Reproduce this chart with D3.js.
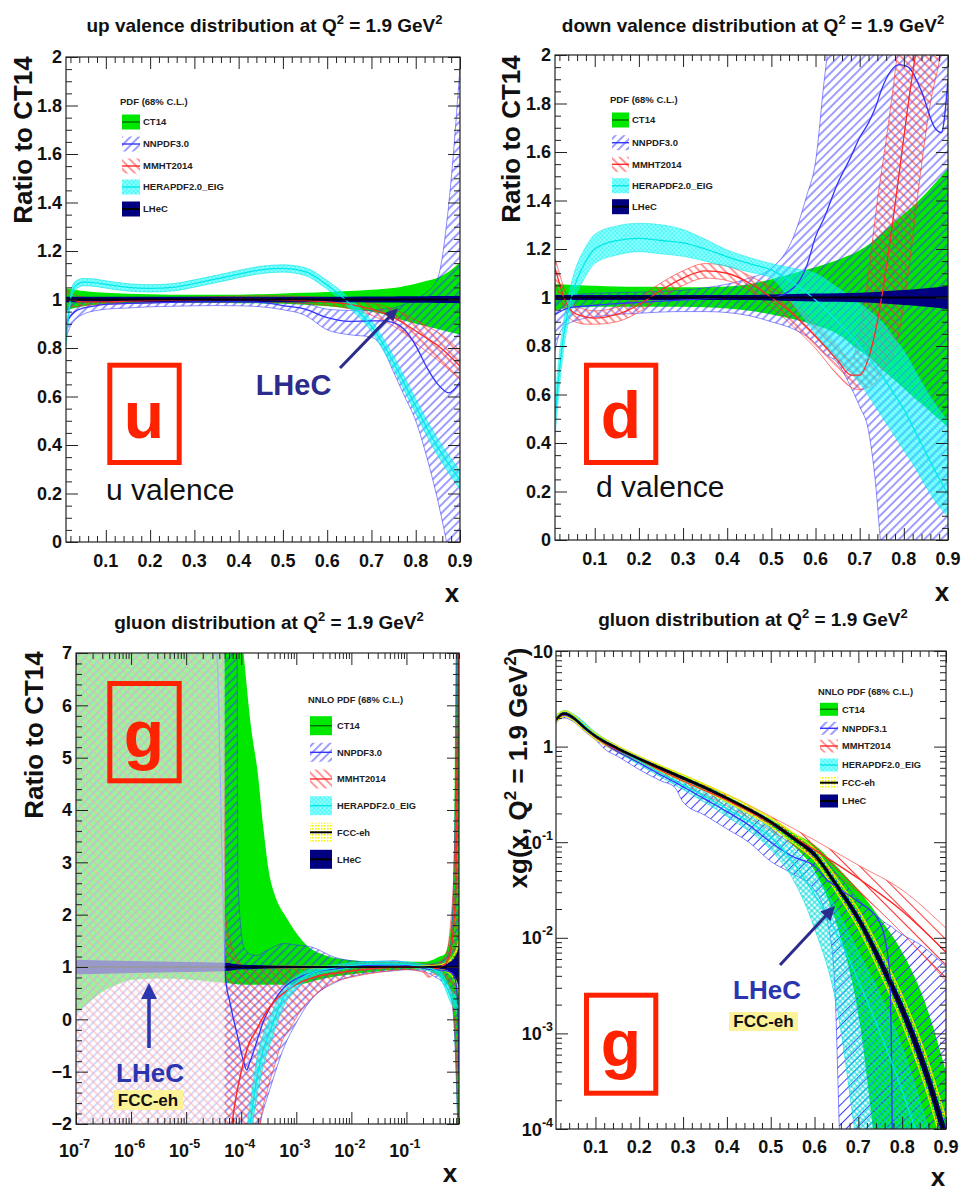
<!DOCTYPE html>
<html>
<head>
<meta charset="utf-8">
<script src="https://cdn.jsdelivr.net/npm/d3@7"></script>
<style>
  html,body{margin:0;padding:0;background:#fff;}
  svg text{font-family:"Liberation Sans",Arial,Helvetica,sans-serif;}
</style>
</head>
<body>
<svg id="fig" width="971" height="1193" xmlns="http://www.w3.org/2000/svg"></svg>
<script>
// ================= up valence: ratio to CT14 =================
const uX = [0.01,0.02,0.03,0.05,0.08,0.1,0.15,0.2,0.25,0.3,0.35,0.4,0.45,0.5,0.55,0.6,0.65,0.7,0.725,0.75,0.775,0.8,0.825,0.85,0.875,0.9];
const uCT14Lo = [.955,.96,.965,.972,.978,.98,.983,.985,.986,.986,.986,.985,.984,.982,.978,.972,.962,.95,.94,.925,.912,.9,.89,.878,.866,.855];
const uCT14Hi = [1.045,1.043,1.04,1.035,1.03,1.028,1.024,1.022,1.02,1.02,1.02,1.02,1.022,1.025,1.028,1.031,1.035,1.04,1.043,1.047,1.056,1.065,1.077,1.09,1.115,1.155];
const uNNPDFMid = [.9,.93,.95,.965,.975,.98,.984,.986,.988,.99,.99,.99,.988,.975,.96,.925,.91,.912,.912,.905,.875,.81,.72,.65,.615,.66];
const uNNPDFLo = [.84,.89,.915,.94,.955,.96,.965,.97,.972,.974,.975,.974,.97,.958,.935,.875,.855,.845,.8,.7,.6,.5,.35,.17,-.05,-.3];
const uNNPDFHi = [.95,.975,.985,.995,1.0,1.002,1.005,1.005,1.005,1.005,1.005,1.005,1.0,.995,.985,.96,.955,.955,.96,.965,.98,1.0,1.03,1.09,1.4,1.96];
const uMMHTMid = [1.0,1.0,.995,.99,.99,.99,.993,.995,.997,.998,1.0,1.0,1.0,.998,.995,.99,.98,.96,.945,.925,.9,.87,.84,.81,.77,.725];
const uMMHTLo = [.97,.97,.97,.975,.978,.98,.983,.986,.988,.99,.99,.99,.99,.988,.983,.976,.962,.935,.915,.89,.86,.82,.785,.75,.71,.67];
const uMMHTHi = [1.04,1.03,1.02,1.01,1.005,1.005,1.005,1.006,1.008,1.01,1.012,1.014,1.015,1.015,1.012,1.008,1.0,.985,.975,.96,.94,.915,.89,.865,.83,.79];
const uHERAMid = [.83,1.0,1.055,1.072,1.068,1.062,1.05,1.046,1.05,1.066,1.085,1.105,1.122,1.128,1.115,1.06,.985,.89,.82,.74,.65,.56,.47,.39,.32,.255];
const uHERALo = [.805,.98,1.037,1.057,1.053,1.047,1.035,1.031,1.035,1.051,1.07,1.09,1.107,1.113,1.099,1.042,.965,.868,.796,.714,.622,.53,.438,.356,.284,.217];
const uHERAHi = [.855,1.02,1.073,1.087,1.083,1.077,1.065,1.061,1.065,1.081,1.1,1.12,1.137,1.143,1.131,1.078,1.005,.912,.844,.766,.678,.59,.502,.424,.356,.293];
const uLHeCLo = [.989,.989,.989,.989,.989,.989,.989,.989,.989,.989,.989,.989,.989,.989,.989,.989,.989,.988,.988,.988,.987,.987,.987,.986,.986,.985];
const uLHeCHi = [1.011,1.011,1.011,1.011,1.011,1.011,1.011,1.011,1.011,1.011,1.011,1.011,1.011,1.011,1.011,1.011,1.011,1.012,1.012,1.012,1.013,1.013,1.013,1.014,1.014,1.015];

// ================= down valence: ratio to CT14 =================
const dX = [0.01,0.02,0.03,0.05,0.08,0.1,0.15,0.2,0.25,0.3,0.35,0.4,0.45,0.5,0.55,0.6,0.65,0.7,0.725,0.75,0.775,0.8,0.825,0.85,0.875,0.9];
const dCT14Lo = [.95,.952,.955,.958,.96,.962,.962,.962,.962,.962,.96,.955,.945,.93,.91,.885,.85,.78,.75,.705,.665,.625,.585,.545,.505,.467];
const dCT14Hi = [1.055,1.055,1.054,1.052,1.05,1.048,1.045,1.044,1.043,1.042,1.042,1.045,1.055,1.075,1.1,1.125,1.155,1.195,1.225,1.265,1.305,1.345,1.385,1.43,1.48,1.533];
const dNNPDFX = [0.01,0.02,0.03,0.05,0.08,0.1,0.15,0.2,0.25,0.3,0.35,0.4,0.45,0.5,0.55,0.58,0.6,0.62,0.65,0.68,0.7,0.72,0.735,0.75,0.79,0.81,0.84,0.87,0.885,0.9];
const dNNPDFMid = [.93,.94,.95,.96,.965,.968,.975,.98,.985,.99,.995,1.0,1.0,1.0,1.04,1.13,1.25,1.33,1.47,1.58,1.66,1.72,1.78,1.86,1.96,1.95,1.85,1.7,1.68,1.9];
const dNNPDFLo = [.78,.85,.88,.9,.915,.92,.93,.935,.94,.942,.942,.938,.925,.9,.87,.84,.81,.77,.73,.63,.55,.45,.25,-.05,-.3,-.3,-.3,-.3,-.3,-.3];
const dNNPDFHi = [.97,.99,1.0,1.01,1.015,1.018,1.02,1.022,1.025,1.03,1.04,1.055,1.08,1.12,1.25,1.42,1.56,1.9,2.3,2.5,2.5,2.5,2.5,2.5,2.5,2.5,2.5,2.5,2.5,2.3];
const dMMHTX = [0.01,0.02,0.03,0.05,0.08,0.1,0.15,0.2,0.25,0.3,0.35,0.4,0.45,0.5,0.55,0.6,0.65,0.68,0.7,0.72,0.74,0.76,0.785,0.81,0.83,0.86,0.883,0.9];
const dMMHTMid = [1.12,1.06,1.0,.94,.92,.915,.93,.97,1.03,1.08,1.11,1.1,1.06,1.0,.93,.84,.74,.68,.68,.75,.9,1.12,1.45,1.8,2.05,2.5,2.8,3.0];
const dMMHTLo = [1.06,1.01,.96,.905,.89,.89,.9,.94,1.0,1.05,1.08,1.07,1.03,.96,.88,.79,.68,.63,.62,.63,.66,.72,.82,1.1,1.4,1.8,2.0,2.2];
const dMMHTHi = [1.16,1.1,1.04,.975,.95,.945,.96,1.0,1.06,1.11,1.14,1.13,1.09,1.04,.98,.89,.8,.74,.86,1.1,1.4,1.65,2.0,2.4,2.6,2.8,3.0,3.2];
const dHERAMid = [.5,.7,.85,1.02,1.15,1.2,1.235,1.244,1.235,1.225,1.2,1.168,1.14,1.113,1.06,.99,.9,.8,.74,.68,.61,.54,.45,.36,.27,.19];
const dHERALo = [.42,.63,.79,.96,1.09,1.14,1.175,1.189,1.18,1.17,1.15,1.127,1.105,1.08,.97,.85,.74,.646,.58,.51,.44,.37,.3,.22,.15,.096];
const dHERAHi = [.58,.77,.91,1.08,1.21,1.26,1.295,1.306,1.3,1.28,1.24,1.196,1.165,1.14,1.12,1.1,1.04,.976,.94,.9,.84,.78,.7,.62,.55,.49];
const dLHeCLo = [.99,.99,.99,.99,.99,.99,.99,.99,.99,.99,.99,.99,.99,.988,.986,.984,.982,.98,.978,.975,.972,.969,.966,.962,.958,.952];
const dLHeCHi = [1.01,1.01,1.01,1.01,1.01,1.01,1.01,1.01,1.01,1.01,1.01,1.01,1.01,1.012,1.014,1.016,1.018,1.02,1.022,1.025,1.028,1.031,1.034,1.038,1.042,1.048];

// ================= gluon: ratio to CT14 (log x) =================
const gCT14X = [1e-7,2e-7,3e-7,5e-7,1e-6,3e-6,1e-5,3e-5,5e-5,7e-5,1.1e-4,1.5e-4,2e-4,2.5e-4,3.2e-4,4e-4,5e-4,6.3e-4,1e-3,1.6e-3,3.2e-3,1e-2,3.2e-2,0.1,0.2,0.32,0.4,0.5,0.63,0.72,0.8,0.85,0.9];
const gCT14Lo = [0.12,0.38,0.52,0.64,0.75,0.78,0.76,0.72,0.7,0.68,0.66,0.66,0.66,0.66,0.66,0.66,0.66,0.66,0.66,0.7,0.78,0.86,0.92,0.95,0.95,0.88,0.82,0.7,0.56,0.0,-1.2,-2.2,-3];
const gCT14Hi = [9,9,9,9,9,9,9,9,9,9,7.0,5.6,4.7,3.7,2.8,2.4,2.15,1.98,1.65,1.4,1.23,1.13,1.1,1.1,1.1,1.15,1.2,1.25,1.7,2.8,8,9,9];
const gNNPDFX = [1e-7,1e-5,3.6e-5,4.5e-5,5.2e-5,6.3e-5,8.3e-5,8.7e-5,1.1e-4,1.26e-4,1.4e-4,1.95e-4,2.5e-4,3.4e-4,5.9e-4,1.02e-3,1.78e-3,5.5e-3,2e-2,6.3e-2,0.1,0.2,0.25,0.32,0.5,0.63,0.71,0.79,0.85,0.9];
const gNNPDFMid = [9,9,7,3,0.8,0.3,-0.26,-0.35,-0.8,-0.97,-0.85,-0.4,-0.05,0.24,0.6,0.78,0.88,0.97,1.03,1.04,1.03,0.98,0.96,0.95,0.93,0.9,0.85,0.7,0.3,-1.0];
const gNNPDFLo = [-3,-3,-3,-3,-3,-3,-3,-3,-3,-3,-3,-2.2,-1.75,-1.3,-0.55,-0.05,0.35,0.72,0.88,0.93,0.95,0.92,0.88,0.82,0.65,0.45,0.1,-0.9,-2,-3];
const gNNPDFHi = [9,9,9,9,9,9,9,2.7,1.39,1.3,1.25,1.22,1.28,1.35,1.45,1.42,1.39,1.17,1.1,1.12,1.08,1.05,1.05,1.07,1.15,1.4,2.5,5,9,9];
const gMMHTX = [1e-7,4.5e-5,5.2e-5,6.3e-5,7.2e-5,8e-5,1e-4,1.4e-4,1.9e-4,2.24e-4,2.9e-4,4e-4,5.9e-4,6.8e-4,1.26e-3,2.4e-3,5e-3,9.5e-3,3.2e-2,0.1,0.2,0.25,0.32,0.5,0.63,0.79,0.9];
const gMMHTMid = [-3,-3,-3,-2.4,-1.8,-1.5,-1.0,-0.45,-0.2,-0.05,0.15,0.35,0.5,0.55,0.72,0.82,0.88,0.92,0.98,1.0,1.0,0.98,0.97,1.05,1.3,2.5,8];
const gMMHTLo = [-3,-3,-3,-3,-3,-3,-3,-3,-3,-2.0,-1.4,-0.9,-0.35,-0.26,0.2,0.5,0.72,0.8,0.9,0.95,0.9,0.8,0.86,0.8,0.5,-0.5,-3];
const gMMHTHi = [9,8,2.0,1.5,1.3,1.2,1.05,1.0,0.98,0.98,0.98,0.98,0.98,0.98,1.0,1.0,1.02,1.05,1.08,1.08,1.06,1.05,1.05,1.2,1.8,4,9];
const gHERAX = [1.2e-4,1.45e-4,1.9e-4,2.5e-4,3.4e-4,5.9e-4,1e-3,1.35e-3,3.2e-3,4.7e-3,1e-2,3.2e-2,0.1,0.2,0.32,0.4,0.5,0.63,0.79,0.9];
const gHERAMid = [-2.6,-2.0,-1.15,-0.6,-0.2,0.43,0.7,0.81,0.95,0.98,1.03,1.06,1.05,1.0,0.95,0.88,0.7,0.45,0.3,0.2];
const gHERALo = [-2.95,-2.35,-1.5,-0.9,-0.45,0.25,0.58,0.71,0.89,0.92,0.98,1.01,1.0,0.95,0.89,0.8,0.6,0.33,0.15,0.05];
const gHERAHi = [-2.25,-1.65,-0.8,-0.3,0.05,0.61,0.82,0.91,1.01,1.04,1.08,1.11,1.1,1.05,1.01,0.96,0.8,0.57,0.45,0.35];
const gFCCX = [1e-7,1e-5,1e-4,1e-3,1e-2,0.1,0.32,0.5,0.63,0.79,0.9];
const gFCCLo = [0.95,0.96,0.975,0.985,0.99,0.99,0.975,0.93,0.86,0.7,0.5];
const gFCCHi = [1.05,1.04,1.025,1.015,1.01,1.01,1.025,1.07,1.14,1.3,1.5];
const gLHeCX = [1e-7,1e-6,1e-5,5e-5,1e-4,1e-3,1e-2,0.1,0.32,0.5,0.63,0.79,0.9];
const gLHeCLo = [0.86,0.885,0.905,0.92,0.955,0.975,0.985,0.985,0.975,0.95,0.9,0.78,0.62];
const gLHeCHi = [1.14,1.115,1.095,1.08,1.045,1.025,1.015,1.015,1.025,1.05,1.1,1.22,1.38];
const gFitRangeMin = 5e-5;   // below this x the fits are shown faded

// ================= gluon xg(x, Q^2 = 1.9 GeV^2) =================
const xgX = [0.01,0.02,0.03,0.05,0.075,0.1,0.15,0.2,0.25,0.3,0.35,0.4,0.45,0.5,0.55,0.6,0.65,0.7,0.75,0.8,0.85,0.9];
const xgCentral = [1.905,2.138,2.213,1.995,1.585,1.288,0.955,0.741,0.589,0.468,0.372,0.288,0.219,0.162,0.112,0.0741,0.0355,0.0158,0.00562,0.00178,0.000447,0.0000794];
const xgCT14Lo = [1.8,2.018,2.089,1.884,1.496,1.216,0.902,0.7,0.556,0.442,0.351,0.272,0.2065,0.148,0.0933,0.0501,0.0141,0.00158,2.5e-5,1e-6,1e-7,1e-8];
const xgCT14Hi = [2.018,2.265,2.344,2.113,1.679,1.365,1.012,0.785,0.624,0.495,0.394,0.305,0.232,0.174,0.126,0.0933,0.0562,0.0316,0.0158,0.00708,0.00224,0.000398];
const xgLHeCErrPct = [4,4,4,4,4,4,4,4,4,4,4,4,4.5,5,5.5,6.5,8,11,15,19,24,30];
const xgFCCErrPct = [7,7,7,7,7,7,7,7,7,8,8,9,10,11,13,15,19,25,32,40,50,62];
const xgNNPDFX = [0.01,0.02,0.03,0.05,0.075,0.1,0.125,0.15,0.175,0.2,0.25,0.28,0.3,0.35,0.4,0.45,0.5,0.55,0.6,0.63,0.645,0.66,0.7,0.75,0.77,0.775,0.78,0.85,0.9];
const xgNNPDFMid = [1.862,2.089,2.138,1.95,1.549,1.259,1.047,0.891,0.776,0.676,0.501,0.427,0.38,0.282,0.209,0.151,0.1,0.0708,0.0562,0.0398,0.0355,0.0316,0.024,0.0141,0.00501,0.001,1e-5,1e-7,1e-8];
const xgNNPDFLo = [1.738,1.95,1.995,1.82,1.445,1.175,0.912,0.794,0.676,0.575,0.437,0.38,0.263,0.191,0.138,0.1,0.0631,0.0468,0.0316,0.0141,0.00398,3.16e-5,1e-8,1e-8,1e-8,1e-8,1e-8,1e-8,1e-8];
const xgNNPDFHi = [1.995,2.239,2.291,2.042,1.622,1.318,1.122,0.977,0.851,0.759,0.603,0.525,0.479,0.38,0.295,0.224,0.158,0.112,0.0794,0.0603,0.0501,0.0417,0.0251,0.0158,0.0135,0.0132,0.0126,0.00794,0.00501];
const xgMMHTX = [0.01,0.03,0.05,0.1,0.2,0.3,0.4,0.5,0.6,0.7,0.8,0.9];
const xgMMHTMid = [1.905,2.188,1.995,1.259,0.724,0.437,0.275,0.158,0.0832,0.0417,0.0191,0.00708];
const xgMMHTLo = [1.82,2.089,1.905,1.202,0.676,0.398,0.24,0.132,0.0661,0.0302,0.0112,0.00355];
const xgMMHTHi = [1.995,2.291,2.089,1.318,0.776,0.479,0.316,0.186,0.105,0.0575,0.0316,0.0126];
const xgHERAX = [0.01,0.03,0.05,0.1,0.2,0.3,0.4,0.5,0.55,0.6,0.65,0.7,0.75,0.8,0.85,0.9];
const xgHERAMid = [1.995,2.239,2.042,1.318,0.708,0.398,0.224,0.112,0.0631,0.0282,0.0112,0.00355,0.001,0.000251,5.01e-5,6.31e-6];
const xgHERALo = [1.862,2.089,1.905,1.23,0.646,0.355,0.186,0.0832,0.0417,0.0126,0.002,5.01e-5,1e-6,1e-7,1e-8,1e-9];
const xgHERAHi = [2.138,2.399,2.188,1.413,0.776,0.447,0.263,0.141,0.0891,0.0479,0.02,0.00708,0.00251,0.000708,0.000141,2.51e-5];

// ================= axis ticks =================
const linXMajor = [0.1,0.2,0.3,0.4,0.5,0.6,0.7,0.8,0.9];
const linXMinor = d3.range(2, 90, 2).map(v => v / 100).filter(v => Math.round(v * 100) % 10 !== 0);
const ratioYMajor = [0,0.2,0.4,0.6,0.8,1,1.2,1.4,1.6,1.8,2];
const ratioYMinor = d3.range(0, 41).map(v => v * 0.05).filter(v => Math.round(v * 100) % 20 !== 0);
const gYMajor = [-2,-1,0,1,2,3,4,5,6,7];
const gYMinor = d3.range(-10, 36).map(v => v * 0.2).filter(v => Math.abs(v - Math.round(v)) > 1e-6);
const logXMajorExp = [-7,-6,-5,-4,-3,-2,-1];
const logYMajorExp = [-4,-3,-2,-1,0,1];

// ================= drawing =================
const svg = d3.select("#fig");
const defs = svg.append("defs");
const C = {
  ct14: "#00e800", ct14Line: "#006e00", nn: "#3434ff", mm: "#ff2a2a",
  he: "#00e0e0", fcc: "#eeee10", lhec: "#000080", box: "#ff2200",
  note: "#2c2c8c", note2: "#2b36ae", frame: "#222"
};

function linePattern(id, color, angle, gap, sw, opts) {
  opts = opts || {};
  const p = defs.append("pattern").attr("id", id).attr("patternUnits", "userSpaceOnUse")
    .attr("width", gap).attr("height", gap).attr("patternTransform", `rotate(${angle})`);
  if (opts.bg) p.append("rect").attr("width", gap).attr("height", gap).attr("fill", opts.bg).attr("fill-opacity", opts.bgOpacity);
  const op = opts.lineOpacity ?? 1;
  p.append("line").attr("x1", gap / 2).attr("y1", 0).attr("x2", gap / 2).attr("y2", gap)
    .attr("stroke", color).attr("stroke-width", sw).attr("stroke-opacity", op);
  if (opts.cross) p.append("line").attr("x1", 0).attr("y1", gap / 2).attr("x2", gap).attr("y2", gap / 2)
    .attr("stroke", color).attr("stroke-width", sw).attr("stroke-opacity", op);
}
linePattern("nnHatch", "#3c3cff", 45, 6, 1);
linePattern("mmHatch", "#ff3030", -45, 6, 1);
linePattern("nnHatchWide", "#3c3cff", 45, 7, 1);
linePattern("mmHatchWide", "#ff3030", -45, 9, 1);
linePattern("heFill", "#00f0f0", 45, 3, 0.7, {cross: true, bg: "#00ffff", bgOpacity: 0.42, lineOpacity: 0.55});
linePattern("heGrid", "#00dada", 45, 4, 1, {cross: true});
{
  const p = defs.append("pattern").attr("id", "fccFill").attr("patternUnits", "userSpaceOnUse").attr("width", 3).attr("height", 3);
  p.append("rect").attr("width", 1.6).attr("height", 1.6).attr("fill", "#f2f000");
}

const idx = xs => d3.range(xs.length);
function band(g, sx, sy, xs, lo, hi, fill, o) {
  o = o || {};
  const area = d3.area().x(i => sx(xs[i])).y0(i => sy(lo[i])).y1(i => sy(hi[i])).curve(d3.curveMonotoneX);
  g.append("path").attr("d", area(idx(xs))).attr("fill", fill).attr("fill-opacity", o.opacity ?? 1);
  if (o.edge) {
    [lo, hi].forEach(arr => {
      const l = d3.line().x(i => sx(xs[i])).y(i => sy(arr[i])).curve(d3.curveMonotoneX);
      g.append("path").attr("d", l(idx(xs))).attr("fill", "none").attr("stroke", o.edge)
        .attr("stroke-width", o.edgeW || 0.8).attr("stroke-opacity", o.edgeO ?? 0.85);
    });
  }
}
function curve(g, sx, sy, xs, ys, color, w, op) {
  const l = d3.line().x(i => sx(xs[i])).y(i => sy(ys[i])).curve(d3.curveMonotoneX);
  g.append("path").attr("d", l(idx(xs))).attr("fill", "none").attr("stroke", color)
    .attr("stroke-width", w).attr("stroke-opacity", op ?? 1);
}
function frameTicks(g, sx, sy, xMaj, xMin, yMaj, yMin) {
  const [x0, x1] = sx.range(), [y0, y1] = sy.range();
  const put = (axis, tr) => g.append("g").attr("transform", tr).call(axis).call(s => {
    s.select(".domain").remove(); s.selectAll("text").remove();
    s.selectAll("line").attr("stroke", C.frame).attr("stroke-width", 1);
  });
  put(d3.axisBottom(sx).tickValues(xMaj).tickSize(-12).tickFormat(""), `translate(0,${y0})`);
  put(d3.axisBottom(sx).tickValues(xMin).tickSize(-6).tickFormat(""), `translate(0,${y0})`);
  put(d3.axisTop(sx).tickValues(xMaj).tickSize(-12).tickFormat(""), `translate(0,${y1})`);
  put(d3.axisTop(sx).tickValues(xMin).tickSize(-6).tickFormat(""), `translate(0,${y1})`);
  put(d3.axisLeft(sy).tickValues(yMaj).tickSize(-12).tickFormat(""), `translate(${x0},0)`);
  put(d3.axisLeft(sy).tickValues(yMin).tickSize(-6).tickFormat(""), `translate(${x0},0)`);
  put(d3.axisRight(sy).tickValues(yMaj).tickSize(-12).tickFormat(""), `translate(${x1},0)`);
  put(d3.axisRight(sy).tickValues(yMin).tickSize(-6).tickFormat(""), `translate(${x1},0)`);
  g.append("rect").attr("x", x0).attr("y", y1).attr("width", x1 - x0).attr("height", y0 - y1)
    .attr("fill", "none").attr("stroke", C.frame).attr("stroke-width", 1.2);
}
function rich(g, x, y, segs, attrs, supSize, rise) {
  const t = g.append("text").attr("x", x).attr("y", y);
  Object.entries(attrs).forEach(([k, v]) => t.attr(k, v));
  let up = 0;
  segs.forEach(s => {
    const sp = t.append("tspan").text(s.t);
    const target = s.sup ? -rise : 0;
    if (target !== up) { sp.attr("dy", target - up); up = target; }
    if (s.sup) sp.attr("font-size", supSize);
  });
  return t;
}
function linXLabels(g, sx, yb) {
  g.selectAll(null).data(linXMajor).join("text").attr("x", d => sx(d)).attr("y", yb)
    .attr("text-anchor", "middle").attr("font-weight", "bold").attr("font-size", 18).attr("fill", "#111")
    .text(d => d3.format(".1f")(d));
}
function linYLabels(g, sy, xr, vals, fmt) {
  g.selectAll(null).data(vals).join("text").attr("x", xr).attr("y", d => sy(d)).attr("dy", "0.36em")
    .attr("text-anchor", "end").attr("font-weight", "bold").attr("font-size", 18).attr("fill", "#111")
    .text(fmt);
}
function legend(g, title, tx, ty, sx0, sw, sh, txtX, rows, fs) {
  g.append("text").attr("x", tx).attr("y", ty + 3.3).attr("font-size", fs).attr("font-weight", "bold").attr("fill", "#222").text(title);
  rows.forEach(r => {
    const y = r.y - sh / 2;
    const fill = {ct14: C.ct14, nn: "url(#nnHatch)", mm: "url(#mmHatch)", he: "url(#heFill)", fcc: "url(#fccFill)", lhec: C.lhec}[r.kind];
    g.append("rect").attr("x", sx0).attr("y", y).attr("width", sw).attr("height", sh).attr("fill", fill);
    const lc = {ct14: C.ct14Line, nn: C.nn, mm: C.mm, he: "#00e8e8", fcc: "#000", lhec: "#000"}[r.kind];
    const lw = (r.kind === "fcc" || r.kind === "lhec") ? 2 : 1.4;
    g.append("line").attr("x1", sx0).attr("x2", sx0 + sw).attr("y1", r.y).attr("y2", r.y).attr("stroke", lc).attr("stroke-width", lw);
    g.append("text").attr("x", txtX).attr("y", r.y + 3.3).attr("font-size", fs).attr("font-weight", "bold").attr("fill", "#222").text(r.label);
  });
}
function arrow(g, x1, y1, x2, y2, color, w, hl, hw) {
  const a = Math.atan2(y2 - y1, x2 - x1), ux = Math.cos(a), uy = Math.sin(a);
  const bx = x2 - ux * hl, by = y2 - uy * hl;
  g.append("line").attr("x1", x1).attr("y1", y1).attr("x2", bx + ux * 2).attr("y2", by + uy * 2)
    .attr("stroke", color).attr("stroke-width", w);
  g.append("path").attr("d", `M${x2},${y2}L${bx - uy * hw},${by + ux * hw}L${bx + uy * hw},${by - ux * hw}Z`).attr("fill", color);
}
function letterBox(g, x, y, w, h, letter, lx, ly) {
  g.append("rect").attr("x", x).attr("y", y).attr("width", w).attr("height", h)
    .attr("fill", "none").attr("stroke", C.box).attr("stroke-width", 5);
  g.append("text").attr("x", lx).attr("y", ly).attr("text-anchor", "middle").attr("font-size", 66)
    .attr("font-weight", "bold").attr("fill", C.box).text(letter);
}
function yTitle(g, x, y, segs, supSize, rise) {
  rich(g, 0, 0, segs, {"font-size": 26, "font-weight": "bold", fill: "#111", "text-anchor": "middle",
    transform: `translate(${x},${y}) rotate(-90)`}, supSize, rise);
}
const titleAttrs = {"font-size": 19, "font-weight": "bold", fill: "#111", "text-anchor": "middle"};
const q2 = name => [{t: name + " distribution at Q"}, {t: "2", sup: true}, {t: " = 1.9 GeV"}, {t: "2", sup: true}];
const xTitle = (g, x, y) => g.append("text").attr("x", x).attr("y", y).attr("text-anchor", "middle")
  .attr("font-size", 26).attr("font-weight", "bold").attr("fill", "#111").text("x");

// ---------- panel 1: up valence ----------
{
  const sx = d3.scaleLinear().domain([0.01, 0.9]).range([66, 460]);
  const sy = d3.scaleLinear().domain([0, 2]).range([542, 57]);
  defs.append("clipPath").attr("id", "c1").append("rect").attr("x", 66).attr("y", 57).attr("width", 394).attr("height", 485);
  const g = svg.append("g");
  const d = g.append("g").attr("clip-path", "url(#c1)");
  band(d, sx, sy, uX, uCT14Lo, uCT14Hi, C.ct14);
  band(d, sx, sy, uX, uNNPDFLo, uNNPDFHi, "url(#nnHatch)", {edge: C.nn, edgeO: 0.7});
  band(d, sx, sy, uX, uMMHTLo, uMMHTHi, "url(#mmHatch)", {edge: C.mm, edgeO: 0.7});
  band(d, sx, sy, uX, uHERALo, uHERAHi, "url(#heFill)", {edge: "#00e6e6", edgeO: 0.8});
  band(d, sx, sy, uX, uLHeCLo, uLHeCHi, C.lhec);
  curve(d, sx, sy, uX, uNNPDFMid, C.nn, 1.3);
  curve(d, sx, sy, uX, uMMHTMid, C.mm, 1.3);
  curve(d, sx, sy, uX, uHERAMid, "#00e8e8", 1.2);
  d.append("line").attr("x1", 66).attr("x2", 460).attr("y1", sy(1)).attr("y2", sy(1)).attr("stroke", "#000").attr("stroke-width", 2);
  frameTicks(g, sx, sy, linXMajor, linXMinor, ratioYMajor, ratioYMinor);
  linXLabels(g, sx, 567);
  linYLabels(g, sy, 62, ratioYMajor, d3.format("~g"));
  rich(g, 264.5, 32, q2("up valence"), titleAttrs, 13, 8);
  yTitle(g, 32, 140, [{t: "Ratio to CT14"}], 17, 11);
  xTitle(g, 452, 602);
  legend(g, "PDF (68% C.L.)", 120, 102, 122, 18, 15, 143, [
    {kind: "ct14", label: "CT14", y: 122}, {kind: "nn", label: "NNPDF3.0", y: 144},
    {kind: "mm", label: "MMHT2014", y: 166}, {kind: "he", label: "HERAPDF2.0_EIG", y: 187},
    {kind: "lhec", label: "LHeC", y: 209}], 9.5);
  letterBox(g, 109.8, 365.2, 69.4, 97.3, "u", 144, 438);
  g.append("text").attr("x", 106).attr("y", 500).attr("font-size", 30).attr("fill", "#111").text("u valence");
  g.append("text").attr("x", 293.5).attr("y", 395).attr("text-anchor", "middle").attr("font-size", 29).attr("font-weight", "bold").attr("fill", C.note).text("LHeC");
  arrow(g, 340, 368, 398, 308, C.note, 3, 13, 6);
}

// ---------- panel 2: down valence ----------
{
  const sx = d3.scaleLinear().domain([0.01, 0.9]).range([555, 948]);
  const sy = d3.scaleLinear().domain([0, 2]).range([540, 55]);
  defs.append("clipPath").attr("id", "c2").append("rect").attr("x", 555).attr("y", 55).attr("width", 393).attr("height", 485);
  const g = svg.append("g");
  const d = g.append("g").attr("clip-path", "url(#c2)");
  band(d, sx, sy, dX, dCT14Lo, dCT14Hi, C.ct14);
  band(d, sx, sy, dNNPDFX, dNNPDFLo, dNNPDFHi, "url(#nnHatch)", {edge: C.nn, edgeO: 0.7});
  band(d, sx, sy, dMMHTX, dMMHTLo, dMMHTHi, "url(#mmHatch)", {edge: C.mm, edgeO: 0.75});
  band(d, sx, sy, dX, dHERALo, dHERAHi, "url(#heFill)", {edge: "#00e6e6", edgeO: 0.6});
  band(d, sx, sy, dX, dLHeCLo, dLHeCHi, C.lhec);
  curve(d, sx, sy, dNNPDFX, dNNPDFMid, C.nn, 1.3);
  curve(d, sx, sy, dMMHTX, dMMHTMid, C.mm, 1.3);
  curve(d, sx, sy, dX, dHERAMid, "#00e8e8", 1.3);
  d.append("line").attr("x1", 555).attr("x2", 948).attr("y1", sy(1)).attr("y2", sy(1)).attr("stroke", "#000").attr("stroke-width", 2);
  frameTicks(g, sx, sy, linXMajor, linXMinor, ratioYMajor, ratioYMinor);
  linXLabels(g, sx, 565);
  linYLabels(g, sy, 551, ratioYMajor, d3.format("~g"));
  rich(g, 753, 32, q2("down valence"), titleAttrs, 13, 8);
  yTitle(g, 520, 139, [{t: "Ratio to CT14"}], 17, 11);
  xTitle(g, 942, 601);
  legend(g, "PDF (68% C.L.)", 610, 100, 612, 17, 15, 632, [
    {kind: "ct14", label: "CT14", y: 120}, {kind: "nn", label: "NNPDF3.0", y: 142.7},
    {kind: "mm", label: "MMHT2014", y: 164.3}, {kind: "he", label: "HERAPDF2.0_EIG", y: 185.7},
    {kind: "lhec", label: "LHeC", y: 206.7}], 9.5);
  letterBox(g, 586.5, 365.2, 69.3, 97.3, "d", 621, 438);
  g.append("text").attr("x", 596).attr("y", 497).attr("font-size", 30).attr("fill", "#111").text("d valence");
}

// ---------- panel 3: gluon ratio, log x ----------
{
  const sx = d3.scaleLog().domain([1e-7, 0.9]).range([76, 459]);
  const sy = d3.scaleLinear().domain([-2, 7]).range([1124, 653]);
  defs.append("clipPath").attr("id", "c3").append("rect").attr("x", 76).attr("y", 653).attr("width", 383).attr("height", 471);
  const g = svg.append("g");
  const d = g.append("g").attr("clip-path", "url(#c3)");
  band(d, sx, sy, gCT14X, gCT14Lo, gCT14Hi, C.ct14);
  band(d, sx, sy, gNNPDFX, gNNPDFLo, gNNPDFHi, "url(#nnHatch)", {edge: C.nn, edgeO: 0.7});
  band(d, sx, sy, gMMHTX, gMMHTLo, gMMHTHi, "url(#mmHatch)", {edge: C.mm, edgeO: 0.75});
  band(d, sx, sy, gHERAX, gHERALo, gHERAHi, "url(#heFill)", {edge: "#00e6e6", edgeO: 0.8});
  band(d, sx, sy, gFCCX, gFCCLo, gFCCHi, "url(#fccFill)", {edge: "#e8e800", edgeW: 1.2, edgeO: 1});
  band(d, sx, sy, gLHeCX, gLHeCLo, gLHeCHi, C.lhec);
  curve(d, sx, sy, gNNPDFX, gNNPDFMid, C.nn, 1.3);
  curve(d, sx, sy, gMMHTX, gMMHTMid, C.mm, 1.5);
  curve(d, sx, sy, gHERAX, gHERAMid, "#00e8e8", 1.3);
  d.append("line").attr("x1", 76).attr("x2", 459).attr("y1", sy(1)).attr("y2", sy(1)).attr("stroke", "#000").attr("stroke-width", 1.6);
  // faded region outside the fitted x range
  d.append("rect").attr("x", 76).attr("y", 653).attr("width", sx(gFitRangeMin) - 76).attr("height", 471)
    .attr("fill", "#fff").attr("fill-opacity", 0.6);
  const minors = [];
  for (let e = -7; e <= -1; e++) for (let k = 2; k <= 9; k++) { const v = k * Math.pow(10, e); if (v <= 0.9) minors.push(v); }
  frameTicks(g, sx, sy, logXMajorExp.map(e => Math.pow(10, e)), minors, gYMajor, gYMinor);
  logXMajorExp.forEach(e => {
    rich(g, sx(Math.pow(10, e)) - 1.5, 1157, [{t: "10"}, {t: String(e), sup: true}],
      {"font-size": 18, "font-weight": "bold", fill: "#111", "text-anchor": "middle"}, 12.5, 9);
  });
  linYLabels(g, sy, 72, gYMajor, d3.format("d"));
  rich(g, 269, 629, q2("gluon"), titleAttrs, 13, 8);
  yTitle(g, 43, 735, [{t: "Ratio to CT14"}], 17, 11);
  xTitle(g, 450, 1182);
  legend(g, "NNLO PDF (68% C.L.)", 308, 700, 310, 22, 19, 337, [
    {kind: "ct14", label: "CT14", y: 725.7}, {kind: "nn", label: "NNPDF3.0", y: 752.3},
    {kind: "mm", label: "MMHT2014", y: 779}, {kind: "he", label: "HERAPDF2.0_EIG", y: 805.7},
    {kind: "fcc", label: "FCC-eh", y: 832.3}, {kind: "lhec", label: "LHeC", y: 859.3}], 9.3);
  letterBox(g, 109.8, 683.5, 69.4, 97.3, "g", 144, 757);
  arrow(g, 149, 1048, 149, 983, C.note2, 3.5, 16, 8);
  g.append("text").attr("x", 150).attr("y", 1081.5).attr("text-anchor", "middle").attr("font-size", 26).attr("font-weight", "bold").attr("fill", C.note2).text("LHeC");
  g.append("rect").attr("x", 113).attr("y", 1090).attr("width", 70).attr("height", 20).attr("fill", "#fbf29a");
  g.append("text").attr("x", 148).attr("y", 1106).attr("text-anchor", "middle").attr("font-size", 17).attr("font-weight", "bold").attr("fill", "#111").text("FCC-eh");
}

// ---------- panel 4: xg(x, Q^2), log y ----------
{
  const sx = d3.scaleLinear().domain([0.01, 0.9]).range([556, 946]);
  const sy = d3.scaleLog().domain([1e-4, 10]).range([1129, 651]);
  defs.append("clipPath").attr("id", "c4").append("rect").attr("x", 556).attr("y", 651).attr("width", 390).attr("height", 478);
  const g = svg.append("g");
  const d = g.append("g").attr("clip-path", "url(#c4)");
  const fccLo = xgCentral.map((v, i) => v / (1 + xgFCCErrPct[i] / 100));
  const fccHi = xgCentral.map((v, i) => v * (1 + xgFCCErrPct[i] / 100));
  const lhLo = xgCentral.map((v, i) => v / (1 + xgLHeCErrPct[i] / 100));
  const lhHi = xgCentral.map((v, i) => v * (1 + xgLHeCErrPct[i] / 100));
  band(d, sx, sy, xgX, xgCT14Lo, xgCT14Hi, C.ct14);
  band(d, sx, sy, xgNNPDFX, xgNNPDFLo, xgNNPDFHi, "url(#nnHatchWide)", {edge: C.nn, edgeO: 0.75});
  band(d, sx, sy, xgMMHTX, xgMMHTLo, xgMMHTHi, "url(#mmHatchWide)", {edge: C.mm, edgeO: 0.75});
  band(d, sx, sy, xgHERAX, xgHERALo, xgHERAHi, "url(#heGrid)", {edge: "#00e0e0", edgeO: 0.8});
  band(d, sx, sy, xgX, fccLo, fccHi, "url(#fccFill)", {edge: "#e8e800", edgeW: 1.3, edgeO: 1});
  band(d, sx, sy, xgX, lhLo, lhHi, C.lhec);
  curve(d, sx, sy, xgNNPDFX, xgNNPDFMid, C.nn, 1.3);
  curve(d, sx, sy, xgMMHTX, xgMMHTMid, C.mm, 1.3);
  curve(d, sx, sy, xgHERAX, xgHERAMid, "#00e8e8", 1.2);
  curve(d, sx, sy, xgX, xgCentral, "#000", 2.2);
  const minors = [];
  for (let e = -4; e <= 0; e++) for (let k = 2; k <= 9; k++) minors.push(k * Math.pow(10, e));
  frameTicks(g, sx, sy, linXMajor, linXMinor, logYMajorExp.map(e => Math.pow(10, e)), minors);
  linXLabels(g, sx, 1153);
  logYMajorExp.forEach(e => {
    const segs = e === 0 ? [{t: "1"}] : e === 1 ? [{t: "10"}] : [{t: "10"}, {t: String(e), sup: true}];
    rich(g, 553, sy(Math.pow(10, e)) + 6.5, segs,
      {"font-size": 18, "font-weight": "bold", fill: "#111", "text-anchor": "end"}, 12.5, 9);
  });
  rich(g, 753, 626, q2("gluon"), titleAttrs, 13, 8);
  yTitle(g, 527, 768, [{t: "xg(x, Q"}, {t: "2", sup: true}, {t: " = 1.9 GeV"}, {t: "2", sup: true}, {t: ")"}], 17, 11);
  xTitle(g, 938, 1186);
  legend(g, "NNLO PDF (68% C.L.)", 818, 692, 820, 18, 13, 842, [
    {kind: "ct14", label: "CT14", y: 709.3}, {kind: "nn", label: "NNPDF3.1", y: 728.3},
    {kind: "mm", label: "MMHT2014", y: 746}, {kind: "he", label: "HERAPDF2.0_EIG", y: 765},
    {kind: "fcc", label: "FCC-eh", y: 782.7}, {kind: "lhec", label: "LHeC", y: 801}], 9.3);
  letterBox(g, 586.5, 995.2, 69.3, 98, "g", 621, 1066);
  arrow(g, 780, 965, 835, 906, C.note, 3, 14, 7);
  g.append("text").attr("x", 767).attr("y", 999).attr("text-anchor", "middle").attr("font-size", 26).attr("font-weight", "bold").attr("fill", C.note2).text("LHeC");
  g.append("rect").attr("x", 729).attr("y", 1012).attr("width", 69).attr("height", 19).attr("fill", "#fbf29a");
  g.append("text").attr("x", 763.5).attr("y", 1027).attr("text-anchor", "middle").attr("font-size", 17).attr("font-weight", "bold").attr("fill", "#111").text("FCC-eh");
}
</script>
</body>
</html>
